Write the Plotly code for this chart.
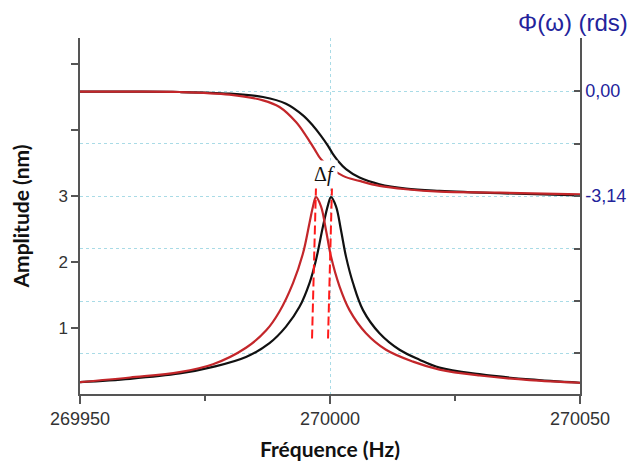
import math
import plotly.graph_objects as go

# ---------------- data ----------------
amp_black_freq = [269950, 269960, 269969.9, 269976.6, 269983.2, 269987.9, 269991.2,
                  269993.9, 269995.9, 269997.2, 269998.6, 269999.6, 270000.2, 270001.2,
                  270002.2, 270003.2, 270004.6, 270006.6, 270009.9, 270013.9, 270017.9,
                  270021.9, 270029.9, 270039.9, 270050]
amp_black = [0.18, 0.23, 0.31, 0.41, 0.56, 0.77, 1.02, 1.32, 1.68, 2.03, 2.54, 2.86,
             2.98, 2.84, 2.48, 2.08, 1.68, 1.27, 0.92, 0.67, 0.52, 0.40, 0.30, 0.22, 0.17]

amp_red_freq = [269950, 269960, 269969.9, 269976.6, 269983.2, 269987.2, 269989.9,
                269992.6, 269994.6, 269995.9, 269996.6, 269997.2, 269998.2, 269999.2,
                270000.2, 270001.9, 270003.9, 270007.2, 270011.2, 270016.6, 270021.9,
                270029.9, 270039.9, 270050]
amp_red = [0.18, 0.25, 0.33, 0.45, 0.70, 0.96, 1.25, 1.68, 2.13, 2.59, 2.84, 2.98,
           2.84, 2.48, 2.08, 1.63, 1.27, 0.92, 0.67, 0.49, 0.37, 0.28, 0.21, 0.17]

phase_black_freq = [269950, 269960, 269969.9, 269979.9, 269986.6, 269991.2, 269994.6,
                    269996.6, 269998.2, 269999.6, 270000.6, 270001.6, 270003.2,
                    270005.9, 270009.9, 270015.2, 270021.9, 270033.9, 270050]
phase_black = [-0.02, -0.02, -0.03, -0.08, -0.18, -0.38, -0.73, -1.04, -1.34, -1.64,
               -1.89, -2.09, -2.34, -2.59, -2.79, -2.92, -2.99, -3.06, -3.12]

phase_red_freq = [269950, 269960, 269969.9, 269979.9, 269986.6, 269989.9, 269993.2,
                  269995.2, 269996.9, 269998.2, 270002.6, 270005.9, 270009.9,
                  270015.2, 270021.9, 270033.9, 270050]
phase_red = [-0.02, -0.02, -0.03, -0.11, -0.28, -0.48, -0.93, -1.34, -1.74, -2.04,
             -2.54, -2.69, -2.84, -2.94, -3.01, -3.04, -3.09]

# Δf markers (peak positions)
dash_left_freq = [269997.2, 269996.4]
dash_right_freq = [270000.4, 269999.6]
dash_amp = [3.14, 0.82]

x_tickvals = [269950, 270000, 270050]
x_ticktext = ["269950", "270000", "270050"]
amp_tickvals = [1, 2, 3, 4, 5]
amp_ticktext = ["1", "2", "3", "", ""]
phase_tickvals = [math.pi / 2, 0, -math.pi / 2, -math.pi, -3 * math.pi / 2, -2 * math.pi, -5 * math.pi / 2]
phase_ticktext = ["", "0,00", "", "-3,14", "", "", ""]

# ---------------- styles ----------------
RED = "#c3262a"
BLACK = "#111111"
BLUE = "#23239b"
GRID = "#a9dbe6"
AXIS = "#555555"

fig = go.Figure()

line_common = dict(width=2.2, shape="spline", smoothing=1.0)
fig.add_trace(go.Scatter(x=phase_black_freq, y=phase_black, yaxis="y2", mode="lines",
                         line=dict(color=BLACK, **line_common), hoverinfo="skip"))
fig.add_trace(go.Scatter(x=phase_red_freq, y=phase_red, yaxis="y2", mode="lines",
                         line=dict(color=RED, **line_common), hoverinfo="skip"))
fig.add_trace(go.Scatter(x=amp_black_freq, y=amp_black, mode="lines",
                         line=dict(color=BLACK, **line_common), hoverinfo="skip"))
fig.add_trace(go.Scatter(x=amp_red_freq, y=amp_red, mode="lines",
                         line=dict(color=RED, **line_common), hoverinfo="skip"))
for fx in (dash_left_freq, dash_right_freq):
    fig.add_trace(go.Scatter(x=fx, y=dash_amp, mode="lines",
                             line=dict(color="#ff1a1a", width=2, dash="9px,4px"),
                             hoverinfo="skip"))

fig.update_layout(
    width=629, height=461,
    margin=dict(l=72, r=57, t=30, b=75, autoexpand=False),
    paper_bgcolor="white", plot_bgcolor="white",
    showlegend=False,
    font=dict(family="Liberation Sans, Arial, sans-serif", size=17, color="#333333"),
    xaxis=dict(
        automargin=False,
        range=[269950, 270050], tickvals=x_tickvals, ticktext=x_ticktext,
        ticks="outside", ticklen=8, tickwidth=1.5, tickcolor=AXIS,
        minor=dict(dtick=25, tick0=269950, ticks="outside", ticklen=5, tickcolor=AXIS, showgrid=False),
        showline=True, linecolor=AXIS, linewidth=1.5,
        showgrid=True, gridcolor=GRID, griddash="dot", gridwidth=1.3,
        zeroline=False,
        title=dict(text="<b>Fréquence (Hz)</b>", font=dict(family="Lato, sans-serif", size=21, color="#111"), standoff=14),
        tickfont=dict(size=18, color="#333"),
    ),
    yaxis=dict(
        automargin=False,
        range=[0, 5.39], tickvals=amp_tickvals, ticktext=amp_ticktext,
        ticks="outside", ticklen=7, tickwidth=1.5, tickcolor=AXIS,
        showline=True, linecolor=AXIS, linewidth=1.5,
        showgrid=False, zeroline=False,
        title=dict(text="<b>Amplitude (nm)</b>", font=dict(family="Lato, sans-serif", size=21, color="#111"), standoff=30),
        tickfont=dict(size=17, color="#333"),
    ),
    yaxis2=dict(
        automargin=False,
        range=[-9.066, 1.586], overlaying="y", side="right",
        tickvals=phase_tickvals, ticktext=phase_ticktext,
        ticks="inside", ticklen=6, tickwidth=1.5, tickcolor=AXIS,
        showline=True, linecolor=AXIS, linewidth=1.5,
        showgrid=True, gridcolor=GRID, griddash="dot", gridwidth=1.3,
        zeroline=False,
        tickfont=dict(size=18, color=BLUE),
    ),
    annotations=[
        dict(text="Φ(ω) (rds)", xref="paper", yref="paper", x=1.098, y=1.0843,
             xanchor="right", yanchor="top", showarrow=False, borderpad=0,
             font=dict(family="Liberation Sans, Arial, sans-serif", size=24, color=BLUE)),
        dict(text="Δ<i>f</i>", x=269998.9, y=3.33, xref="x", yref="y",
             showarrow=False, bgcolor="white", borderpad=2,
             font=dict(family="Liberation Serif, serif", size=20, color="#111")),
    ],
)

fig.write_html("out.html")
